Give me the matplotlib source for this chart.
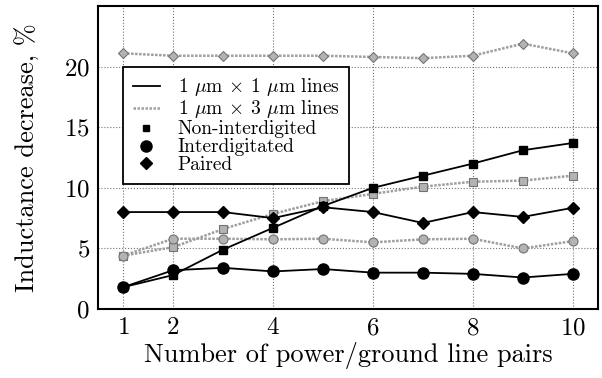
import matplotlib
matplotlib.use("Agg")
import matplotlib.pyplot as plt
from matplotlib.lines import Line2D

plt.rcParams['font.family'] = 'serif'
plt.rcParams['font.serif'] = ['cmr10']
plt.rcParams['mathtext.fontset'] = 'cm'
plt.rcParams['axes.formatter.use_mathtext'] = True

pairs = [1, 2, 3, 4, 5, 6, 7, 8, 9, 10]

# 1 um x 1 um lines
non_inter_1x1 = [1.8, 2.8, 4.9, 6.7, 8.5, 10.0, 11.0, 12.0, 13.1, 13.7]
inter_1x1 = [1.8, 3.2, 3.4, 3.1, 3.3, 3.0, 3.0, 2.9, 2.6, 2.9]
paired_1x1 = [8.0, 8.0, 8.0, 7.5, 8.4, 8.0, 7.1, 8.0, 7.6, 8.35]

# 1 um x 3 um lines
non_inter_1x3 = [4.4, 5.1, 6.6, 7.85, 8.9, 9.5, 10.1, 10.5, 10.6, 11.0]
inter_1x3 = [4.4, 5.8, 5.8, 5.75, 5.8, 5.5, 5.75, 5.8, 5.0, 5.6]
paired_1x3 = [21.1, 20.9, 20.9, 20.9, 20.9, 20.8, 20.7, 20.9, 21.9, 21.1]

xticks = [1, 2, 4, 6, 8, 10]
yticks = [0, 5, 10, 15, 20]

fig = plt.figure(figsize=(6.02, 3.78), dpi=100)
ax = fig.add_axes([0.163, 0.1825, 0.83, 0.8015])

gray_line = dict(color='0.62', lw=1.8, linestyle=(0, (1, 0.6)))
gray_mk = dict(markerfacecolor='0.7', markeredgecolor='0.45', markeredgewidth=0.8)
black = dict(color='black', lw=1.3)

ax.plot(pairs, paired_1x3, marker='D', markersize=5.5, **gray_line, **gray_mk)
ax.plot(pairs, non_inter_1x3, marker='s', markersize=6, **gray_line, **gray_mk)
ax.plot(pairs, inter_1x3, marker='o', markersize=6.5, **gray_line, **gray_mk)

ax.plot(pairs, paired_1x1, marker='D', markersize=6, **black)
ax.plot(pairs, non_inter_1x1, marker='s', markersize=6, **black)
ax.plot(pairs, inter_1x1, marker='o', markersize=8, **black)

ax.set_xlim(0.5, 10.5)
ax.set_ylim(0, 25)
ax.set_xticks(xticks)
ax.set_yticks(yticks)
ax.grid(True, color='0.45', linestyle=':', lw=0.8)
ax.tick_params(labelsize=18, length=0, pad=6)
for s in ax.spines.values():
    s.set_linewidth(1.5)

ax.set_xlabel('Number of power/ground line pairs', fontsize=19, labelpad=2)
ax.set_ylabel('Inductance decrease, %', fontsize=19, labelpad=17)

handles = [
    Line2D([], [], color='black', lw=1.3),
    Line2D([], [], color='0.62', lw=1.8, linestyle=(0, (1, 0.6))),
    Line2D([], [], color='black', marker='s', linestyle='none', markersize=5),
    Line2D([], [], color='black', marker='o', linestyle='none', markersize=8),
    Line2D([], [], color='black', marker='D', linestyle='none', markersize=6),
]
labels = [r'1 $\mu$m $\times$ 1 $\mu$m lines', r'1 $\mu$m $\times$ 3 $\mu$m lines',
          'Non-interdigited', 'Interdigitated', 'Paired']
leg = ax.legend(handles, labels, loc='upper left', bbox_to_anchor=(0.05, 0.8),
                fontsize=14, frameon=True, fancybox=False, framealpha=1,
                edgecolor='black', handlelength=1.4, labelspacing=0.0,
                borderpad=0.5, handletextpad=0.9, borderaxespad=0)
leg.get_frame().set_linewidth(1.3)

fig.savefig('out.png', dpi=100)
